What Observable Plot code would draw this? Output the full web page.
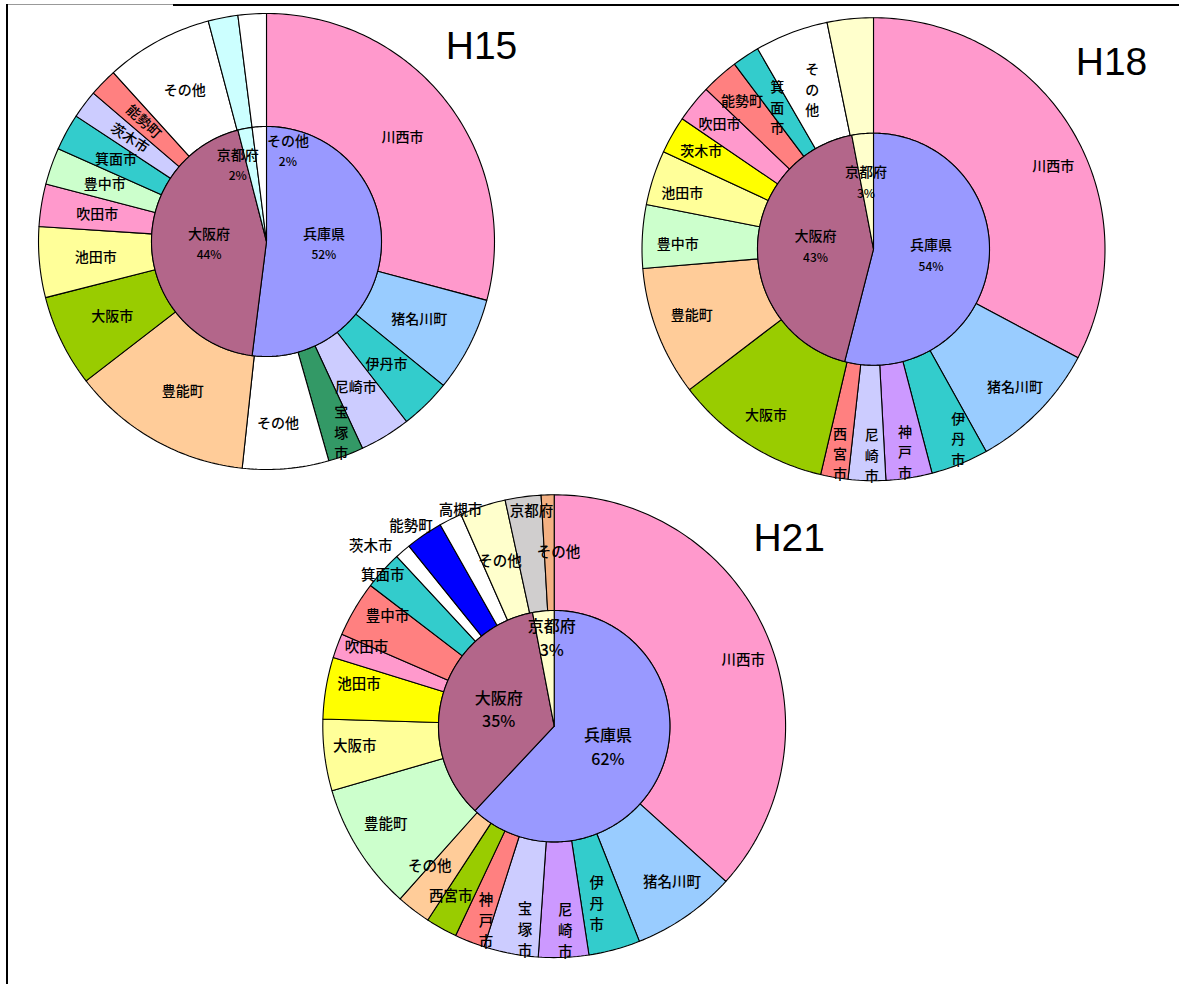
<!DOCTYPE html>
<html><head><meta charset="utf-8">
<script src="https://cdn.jsdelivr.net/npm/d3@7"></script>
<script src="https://cdn.jsdelivr.net/npm/@observablehq/plot@0.6"></script>
<style>
html,body{margin:0;padding:0;background:#fff;}
#wrap{position:relative;width:1179px;height:984px;overflow:hidden;}
#wrap svg{position:absolute;left:0;top:0;}
.fr{position:absolute;background:#000;}
</style></head><body>
<div id="wrap">
 <div class="fr" style="left:173px;top:4px;width:1006px;height:2px"></div>
 <div class="fr" style="left:7px;top:4px;width:166px;height:1px;background:#999"></div>
 <div class="fr" style="left:6px;top:4px;width:2px;height:980px"></div>
</div>
<script>
// ---------- DATA ----------
// H15
const h15Names = ["川西市","猪名川町","伊丹市","尼崎市","宝塚市","その他","豊能町","大阪市","池田市","吹田市","豊中市","箕面市","茨木市","能勢町","その他","京都府","その他"];
const h15Values = [29.1,6.7,3.6,3.6,2.5,6.1,12.8,6.5,5.0,3.0,2.6,2.6,2.0,2.0,7.6,2.1,2.0];
const h15InnerNames = ["兵庫県","大阪府","京都府","その他"];
const h15InnerPct = [52,44,2,2];
// H18
const h18Names = ["川西市","猪名川町","伊丹市","神戸市","尼崎市","西宮市","大阪市","豊能町","豊中市","池田市","茨木市","吹田市","能勢町","箕面市","その他","京都府"];
const h18Values = [32.6,9.1,4.0,3.2,2.6,1.9,10.9,9.0,4.4,3.8,2.6,2.6,2.6,1.9,5.1,3.2];
const h18InnerNames = ["兵庫県","大阪府","京都府"];
const h18InnerPct = [54,43,3];
// H21
const h21Names = ["川西市","猪名川町","伊丹市","尼崎市","宝塚市","神戸市","西宮市","その他","豊能町","大阪市","池田市","吹田市","豊中市","箕面市","茨木市","能勢町","高槻市","その他","京都府","その他"];
const h21Values = [36.7,7.3,3.6,3.5,3.8,2.1,2.2,2.4,8.9,5.0,4.3,1.7,3.9,2.7,1.1,2.6,1.6,3.2,2.5,0.9];
const h21InnerNames = ["兵庫県","大阪府","京都府"];
const h21InnerPct = [62,35,3];

// ---------- COLOURS ----------
const h15Colors = ["#FF99CC","#99CCFF","#33CCCC","#CCCCFF","#339966","#FFFFFF","#FFCC99","#99CC00","#FFFF99","#FF99CC","#CCFFCC","#33CCCC","#CCCCFF","#FF8080","#FFFFFF","#CCFFFF","#FFFFFF"];
const h15InnerColors = ["#9999FF","#B3668A","#CCFFFF","#FFFFFF"];
const h18Colors = ["#FF99CC","#99CCFF","#33CCCC","#CC99FF","#CCCCFF","#FF8080","#99CC00","#FFCC99","#CCFFCC","#FFFF99","#FFFF00","#FF99CC","#FF8080","#33CCCC","#FFFFFF","#FFFFCC"];
const h18InnerColors = ["#9999FF","#B3668A","#FFFFCC"];
const h21Colors = ["#FF99CC","#99CCFF","#33CCCC","#CC99FF","#CCCCFF","#FF8080","#99CC00","#FFCC99","#CCFFCC","#FFFF99","#FFFF00","#FF99CC","#FF8080","#33CCCC","#FFFFFF","#0000FF","#FFFFFF","#FFFFCC","#D0CECE","#F4B183"];
const h21InnerColors = ["#9999FF","#B3668A","#FFFFCC"];

// ---------- LAYOUT ----------
const charts = [
 {title:"H15", names:h15Names, values:h15Values, colors:h15Colors, innerNames:h15InnerNames, innerPct:h15InnerPct, innerColors:h15InnerColors,
  cx:266, cy:241, rOut:228, rIn:115, labelR:171.5, titleDx:215, titleDy:-195, fs:14, innerFs:14, pctFs:12, innerGap:[10.5,10.5],
  vertical:[4], rotate:{12:33,13:43}, hidden:[15,16], nudge:{4:[15,29],5:[-3,11]}, innerNudge:{2:[-18,-19],3:[25,-32]}},
 {title:"H18", names:h18Names, values:h18Values, colors:h18Colors, innerNames:h18InnerNames, innerPct:h18InnerPct, innerColors:h18InnerColors,
  cx:873, cy:248.7, rOut:231.5, rIn:116, labelR:198, titleDx:238, titleDy:-187, fs:14, innerFs:14, pctFs:12, innerGap:[10.5,10.5],
  vertical:[2,3,4,5,13,14], rotate:{}, hidden:[15],
  nudge:{0:[10,19],2:[11,5],3:[1,6],4:[4,7],5:[0,8],7:[3,-5],8:[2,6],9:[-3,6],13:[13,22],14:[9,24]}, innerNudge:{2:[-2,-8]}},
 {title:"H21", names:h21Names, values:h21Values, colors:h21Colors, innerNames:h21InnerNames, innerPct:h21InnerPct, innerColors:h21InnerColors,
  cx:553.7, cy:725.7, rOut:231.4, rIn:115.7, labelR:198, titleDx:235, titleDy:-188, fs:14.5, innerFs:16, pctFs:16, innerGap:[11.5,12],
  vertical:[2,3,4,5], rotate:{}, hidden:[],
  nudge:{0:[8,15],1:[5,-7],2:[-9,-15],3:[3,5],4:[8,8],5:[4,9],6:[-7,-3],7:[-4,-17],8:[-1,-7],9:[-3,-5],10:[0,-9],11:[-2,-10],12:[4,-10],13:[-25,-18],14:[-54,-30],15:[-32,-36],16:[-5,-39],17:[7,23],18:[4,-19],19:[10,24]},
  innerNudge:{2:[3,-30]}}
];

// ---------- GEOMETRY ----------
const slices = [], outerLabels = [], vertLabels = [], innerNameLabels = [], innerPctLabels = [], titles = [];
const STEP = Math.PI/180;
const pt = (c, r, a) => ({x: c.cx + r*Math.sin(a), y: c.cy - r*Math.cos(a)});

charts.forEach((c) => {
  // outer ring
  const tot = d3.sum(c.values);
  let acc = 0;
  c.values.forEach((v, i) => {
    const a0 = acc/tot*2*Math.PI; acc += v; const a1 = acc/tot*2*Math.PI;
    const n = Math.max(2, Math.ceil((a1-a0)/STEP));
    const pts = [];
    for (let k=0;k<=n;k++) pts.push(pt(c, c.rOut, a0+(a1-a0)*k/n));
    for (let k=n;k>=0;k--) pts.push(pt(c, c.rIn, a0+(a1-a0)*k/n));
    pts.push(pts[0]);
    const id = c.title+"-o-"+i;
    pts.forEach(p => slices.push({id, x:p.x, y:p.y, color:c.colors[i]}));
    if (!c.hidden.includes(i)) {
      const p = pt(c, c.labelR, (a0+a1)/2);
      const nd = c.nudge[i] || [0,0];
      if (c.vertical.includes(i)) {
        vertLabels.push({x:p.x+nd[0], y:p.y+nd[1], text:[...c.names[i]].join("\n"), fs:c.fs});
      } else {
        outerLabels.push({x:p.x+nd[0], y:p.y+nd[1], text:c.names[i], rotate:c.rotate[i] || 0, fs:c.fs});
      }
    }
  });
  // inner pie
  const itot = d3.sum(c.innerPct);
  acc = 0;
  c.innerPct.forEach((v, i) => {
    const a0 = acc/itot*2*Math.PI; acc += v; const a1 = acc/itot*2*Math.PI;
    const n = Math.max(2, Math.ceil((a1-a0)/STEP));
    const pts = [{x:c.cx, y:c.cy}];
    for (let k=0;k<=n;k++) pts.push(pt(c, c.rIn, a0+(a1-a0)*k/n));
    pts.push({x:c.cx, y:c.cy});
    const id = c.title+"-i-"+i;
    pts.forEach(p => slices.push({id, x:p.x, y:p.y, color:c.innerColors[i]}));
    const p = pt(c, c.rIn/2, (a0+a1)/2);
    const nd = c.innerNudge[i] || [0,0];
    innerNameLabels.push({x:p.x+nd[0], y:p.y+nd[1]-c.innerGap[0], text:c.innerNames[i], fs:c.innerFs});
    innerPctLabels.push({x:p.x+nd[0], y:p.y+nd[1]+c.innerGap[1], text:v+"%", fs:c.pctFs});
  });
  titles.push({x:c.cx+c.titleDx, y:c.cy+c.titleDy, text:c.title});
});

const jp = "'Noto Sans CJK JP', 'Noto Sans', sans-serif";

const chart = Plot.plot({
  width:1179, height:984, margin:0,
  x:{domain:[0,1179], axis:null},
  y:{domain:[984,0], axis:null},
  color:{type:"identity"},
  style:{background:"transparent", overflow:"visible"},
  marks:[
    Plot.line(slices, {x:"x", y:"y", z:"id", fill:"color", stroke:"#000", strokeWidth:1.1, strokeLinejoin:"miter", curve:"linear"}),
    Plot.text(outerLabels, {x:"x", y:"y", text:"text", rotate:"rotate", fontSize:"fs", fontFamily:jp, fontWeight:500, fill:"#000"}),
    Plot.text(vertLabels, {x:"x", y:"y", text:"text", fontSize:"fs", fontFamily:jp, fontWeight:500, lineHeight:1.45, fill:"#000"}),
    Plot.text(innerNameLabels, {x:"x", y:"y", text:"text", fontSize:"fs", fontFamily:jp, fontWeight:500, fill:"#000"}),
    Plot.text(innerPctLabels, {x:"x", y:"y", text:"text", fontSize:"fs", fontFamily:jp, fontWeight:500, fill:"#000"}),
    Plot.text(titles, {x:"x", y:"y", text:"text", fontSize:39, fontFamily:"'Liberation Sans', Arial, sans-serif", fill:"#000"})
  ]
});
document.getElementById("wrap").appendChild(chart);
</script>
</body></html>
